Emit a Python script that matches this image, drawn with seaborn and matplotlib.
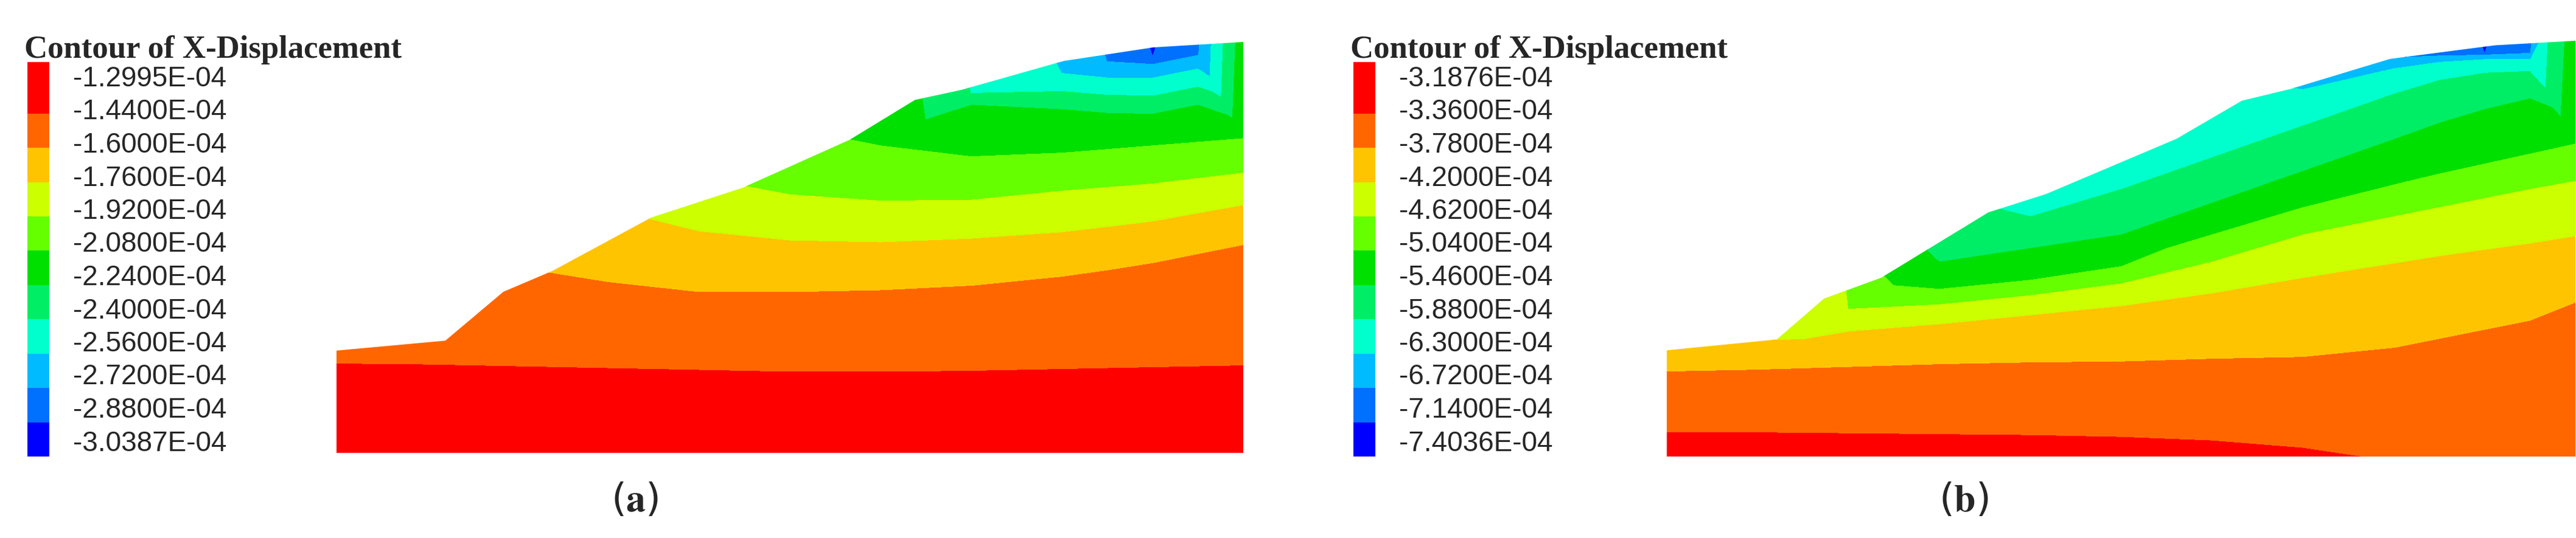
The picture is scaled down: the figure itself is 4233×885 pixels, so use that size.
import numpy as np
import matplotlib
matplotlib.use("Agg")
import matplotlib.pyplot as plt
import matplotlib.tri as mtri
from matplotlib.colors import ListedColormap, BoundaryNorm
from matplotlib.patches import Polygon
import seaborn as sns

# band colours, top of legend (least negative) to bottom
band_colors = ["#ff0000", "#ff6600", "#ffc400", "#ccff00", "#66ff00", "#00e000",
               "#00ee66", "#00ffcc", "#00bbff", "#0070ff", "#0000ff"]

labels_a = ["-1.2995E-04", "-1.4400E-04", "-1.6000E-04", "-1.7600E-04", "-1.9200E-04",
            "-2.0800E-04", "-2.2400E-04", "-2.4000E-04", "-2.5600E-04", "-2.7200E-04",
            "-2.8800E-04", "-3.0387E-04"]
labels_b = ["-3.1876E-04", "-3.3600E-04", "-3.7800E-04", "-4.2000E-04", "-4.6200E-04",
            "-5.0400E-04", "-5.4600E-04", "-5.8800E-04", "-6.3000E-04", "-6.7200E-04",
            "-7.1400E-04", "-7.4036E-04"]

# slope outline (model coords, x 0..100)
surf_a_x = [0, 100, 100, 90.1, 80.2, 68.9, 63.8, 56.6, 44.8, 34.7, 23.8, 18.4, 12.0, 0]
surf_a_y = [0, 0, 45.4, 44.8, 43.3, 40.1, 39.0, 34.6, 29.3, 26.0, 20.1, 17.8, 12.4, 11.3]
surf_b_x = [0, 100, 100, 91.2, 79.6, 68.7, 63.3, 56.1, 41.7, 35.4, 23.6, 17.3, 12.1, 0]
surf_b_y = [0, 0, 45.8, 45.3, 43.8, 40.5, 39.2, 35.0, 28.9, 26.9, 19.7, 17.4, 12.9, 11.7]

# sample columns and heights of the band boundaries
cols = [0, 10, 20, 30, 40, 50, 60, 70, 80, 85, 90, 95, 100]
nan = np.nan
bounds_a = [
    [9.9, 9.8, 9.6, 9.4, 9.2, 9.0, 9.0, 9.1, 9.3, 9.4, 9.5, 9.6, 9.7],
    [nan, nan, 20.5, 18.9, 17.8, 17.8, 18.0, 18.5, 19.5, 20.2, 21.0, 22.0, 23.0],
    [nan, nan, nan, 27.0, 24.5, 23.5, 23.3, 23.7, 24.4, 25.0, 25.6, 26.5, 27.4],
    [nan, nan, nan, nan, 30.5, 28.6, 27.9, 28.0, 29.0, 29.4, 29.8, 30.4, 31.0],
    [nan, nan, nan, nan, nan, 36.0, 34.0, 32.8, 33.2, 33.6, 34.0, 34.4, 34.8],
    [nan, nan, nan, nan, nan, nan, nan, 38.5, 38.0, 37.6, 37.5, 38.5, nan],
    [nan, nan, nan, nan, nan, nan, nan, 39.8, 40.0, 39.6, 39.5, 40.5, nan],
    [nan, nan, nan, nan, nan, nan, nan, nan, 42.0, 41.5, 41.5, 42.5, nan],
    [nan, nan, nan, nan, nan, nan, nan, nan, nan, 43.3, 43.0, 44.0, nan],
    [nan, nan, nan, nan, nan, nan, nan, nan, nan, nan, 44.0, nan, nan],
]
top_a = [1, 1, 2, 3, 4, 5, 5, 7, 8, 9, 10, 9, 5]

bounds_b = [
    [2.7, 2.7, 2.6, 2.5, 2.4, 2.2, 1.8, 1.0, -0.5, -1, -1, -1, -1],
    [9.4, 9.6, 9.9, 10.2, 10.4, 10.5, 10.8, 11.0, 12.0, 13.0, 14.0, 15.0, 17.0],
    [nan, nan, 13.8, 14.6, 15.6, 16.6, 18.0, 19.7, 21.3, 22.1, 22.8, 23.5, 24.3],
    [nan, nan, 16.3, 16.8, 17.8, 19.1, 21.5, 24.5, 26.5, 27.5, 28.5, 29.5, 30.4],
    [nan, nan, nan, 18.5, 19.5, 21.0, 24.5, 27.5, 30.0, 31.2, 32.3, 33.4, 34.5],
    [nan, nan, nan, 21.5, 23.0, 24.5, 28.0, 31.5, 35.0, 36.8, 38.3, 39.5, nan],
    [nan, nan, nan, 29.0, 26.5, 29.5, 33.0, 36.5, 40.0, 41.5, 42.3, 42.5, nan],
    [nan, nan, nan, nan, nan, nan, 42.0, 40.5, 42.8, 43.5, 43.8, 43.8, nan],
    [nan, nan, nan, nan, nan, nan, nan, nan, 44.0, 44.2, 44.3, 44.5, nan],
    [nan, nan, nan, nan, nan, nan, nan, nan, nan, nan, 44.6, nan, nan],
]
top_b = [2, 2, 4, 7, 7, 7, 8, 8, 9, 9, 10, 9, 5]

W, H = 4233, 885
sns.set_style("white")
plt.rcParams["mathtext.fontset"] = "stix"
fig = plt.figure(figsize=(W / 100, H / 100), dpi=100)
cmap = ListedColormap(band_colors)
norm = BoundaryNorm(np.arange(-0.5, 11.5, 1), cmap.N)


def draw_panel(rect, bounds, top, sx, sy):
    ax = fig.add_axes(rect)
    xs, ys, vs = [], [], []
    for j, x in enumerate(cols):
        xs.append(x); ys.append(-3); vs.append(0)
        for k, row in enumerate(bounds):
            if not np.isnan(row[j]):
                xs.append(x); ys.append(row[j]); vs.append(k + 0.5)
        xs.append(x); ys.append(52); vs.append(top[j])
    tri = mtri.Triangulation(xs, ys)
    cs = ax.tricontourf(tri, vs, levels=np.arange(-0.5, 11.5, 1), cmap=cmap, norm=norm)
    poly = Polygon(np.column_stack([sx, sy]), closed=True, transform=ax.transData,
                   facecolor="none", edgecolor="none")
    ax.add_patch(poly)
    cs.set_clip_path(poly)
    ax.set_xlim(0, 100)
    ax.set_ylim(0, max(sy))
    ax.axis("off")


def draw_legend(x0, labels):
    cax = fig.add_axes([x0 / W, (H - 751) / H, 36 / W, 649 / H])
    idx = [0, 0, 0] + [i for i in range(1, 11) for _ in (0, 1)]
    sns.heatmap(np.array(idx).reshape(-1, 1), cmap=cmap, norm=norm, cbar=False,
                xticklabels=False, yticklabels=False, ax=cax)
    fig.text((x0 - 5) / W, (H - 95) / H, "Contour of X-Displacement", family="Liberation Serif",
             fontweight="bold", fontsize=38, ha="left", va="baseline")
    for i, lab in enumerate(labels):
        fig.text((x0 + 75) / W, (H - 130 - 54.5 * i) / H, lab, family="Liberation Sans",
                 fontsize=33, ha="left", va="center")


draw_panel([553 / W, (H - 745) / H, 1490 / W, 676 / H], bounds_a, top_a, surf_a_x, surf_a_y)
draw_panel([2739 / W, (H - 751) / H, 1493 / W, 684 / H], bounds_b, top_b, surf_b_x, surf_b_y)
draw_legend(45, labels_a)
draw_legend(2224, labels_b)

fig.text(1043 / W, (H - 823) / H, r"($\mathbf{a}$)", fontsize=46, ha="center", va="center")
fig.text(3227 / W, (H - 823) / H, r"($\mathbf{b}$)", fontsize=46, ha="center", va="center")

fig.savefig("out.png", dpi=100)
